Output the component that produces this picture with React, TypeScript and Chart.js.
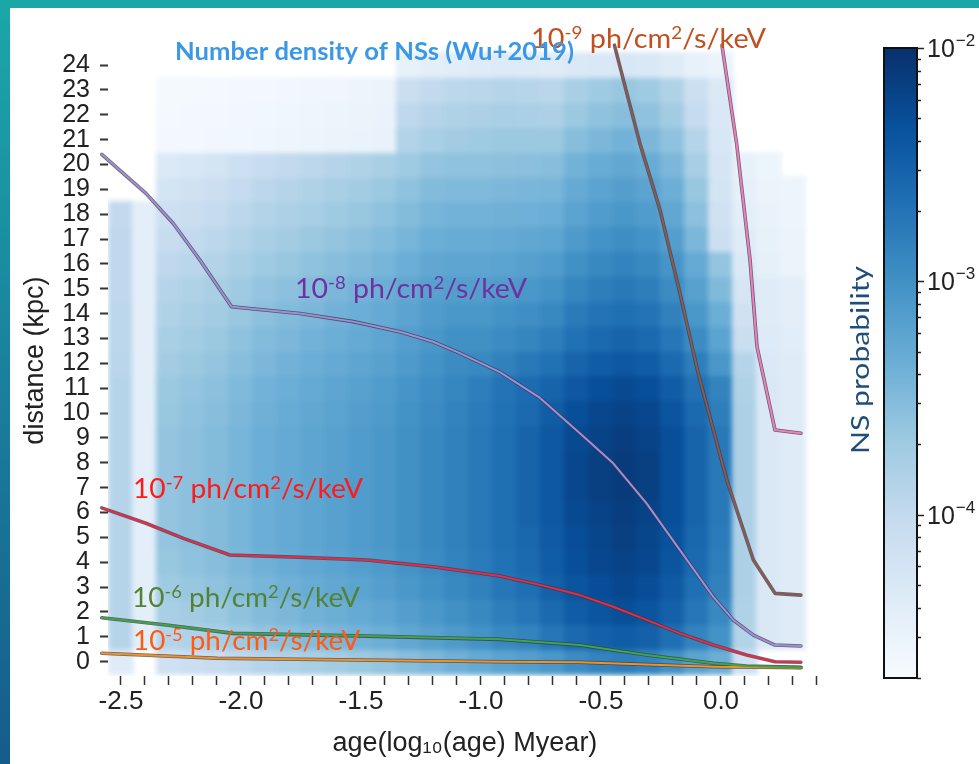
import { useEffect, useRef } from "react";
import { Chart, registerables } from "chart.js";

Chart.register(...registerables);

// Bin centres of the probability grid
const ageBins = [-2.5, -2.4, -2.3, -2.2, -2.1, -2.0, -1.9, -1.8, -1.7, -1.6, -1.5, -1.4, -1.3, -1.2, -1.1, -1.0, -0.9, -0.8, -0.7, -0.6, -0.5, -0.4, -0.3, -0.2, -0.1, 0.0, 0.1, 0.2, 0.3];
const distanceBins = [0, 1, 2, 3, 4, 5, 6, 7, 8, 9, 10, 11, 12, 13, 14, 15, 16, 17, 18, 19, 20, 21, 22, 23, 24];

// log10(NS probability), one row per distance bin (row index = kpc), one column per age bin; null = empty cell
const logProbability: (number | null)[][] = [
  [-4.38, null, -4.16, -4.11, -4.05, -3.97, -3.89, -3.84, -3.78, -3.73, -3.67, -3.62, -3.54, -3.46, -3.38, -3.30, -3.22, -3.16, -3.08, -2.95, -2.86, -2.81, -2.86, -3.00, -3.22, -3.35, -4.16, null, null],
  [-3.89, -4.43, -3.89, -3.84, -3.78, -3.70, -3.62, -3.57, -3.51, -3.46, -3.40, -3.35, -3.27, -3.19, -3.11, -3.03, -2.92, -2.86, -2.73, -2.59, -2.51, -2.46, -2.51, -2.65, -2.86, -3.03, -3.86, -4.30, -4.38],
  [-3.89, -4.43, -3.78, -3.73, -3.67, -3.59, -3.51, -3.46, -3.40, -3.35, -3.30, -3.24, -3.16, -3.08, -3.00, -2.92, -2.81, -2.73, -2.59, -2.46, -2.38, -2.32, -2.38, -2.51, -2.73, -2.92, -3.84, -4.30, -4.38],
  [-3.89, -4.43, -3.70, -3.65, -3.59, -3.51, -3.43, -3.38, -3.32, -3.27, -3.22, -3.16, -3.08, -3.00, -2.92, -2.84, -2.73, -2.65, -2.51, -2.38, -2.30, -2.24, -2.30, -2.43, -2.65, -2.84, -3.81, -4.30, -4.38],
  [-3.89, -4.43, -3.65, -3.59, -3.54, -3.46, -3.38, -3.32, -3.27, -3.22, -3.16, -3.11, -3.03, -2.95, -2.86, -2.78, -2.68, -2.59, -2.46, -2.32, -2.24, -2.19, -2.24, -2.38, -2.59, -2.81, -3.81, -4.30, -4.38],
  [-3.89, -4.43, -3.62, -3.57, -3.51, -3.43, -3.35, -3.30, -3.24, -3.19, -3.13, -3.08, -3.00, -2.92, -2.84, -2.76, -2.65, -2.57, -2.43, -2.30, -2.22, -2.16, -2.22, -2.35, -2.57, -2.78, -3.81, -4.30, -4.38],
  [-3.89, -4.43, -3.62, -3.57, -3.51, -3.43, -3.35, -3.30, -3.24, -3.19, -3.13, -3.08, -3.00, -2.92, -2.84, -2.76, -2.65, -2.54, -2.41, -2.27, -2.19, -2.14, -2.19, -2.32, -2.54, -2.76, -3.81, -4.30, -4.38],
  [-3.89, -4.43, -3.62, -3.57, -3.51, -3.43, -3.35, -3.30, -3.24, -3.19, -3.13, -3.08, -3.00, -2.92, -2.84, -2.76, -2.65, -2.54, -2.41, -2.24, -2.16, -2.11, -2.16, -2.32, -2.54, -2.76, -3.81, -4.30, -4.38],
  [-3.89, -4.43, -3.62, -3.57, -3.51, -3.43, -3.35, -3.30, -3.24, -3.19, -3.13, -3.08, -3.00, -2.92, -2.84, -2.76, -2.65, -2.54, -2.41, -2.24, -2.16, -2.11, -2.16, -2.32, -2.54, -2.76, -3.81, -4.30, -4.38],
  [-3.89, -4.43, -3.62, -3.57, -3.51, -3.43, -3.35, -3.30, -3.24, -3.19, -3.13, -3.08, -3.00, -2.92, -2.84, -2.76, -2.65, -2.54, -2.41, -2.27, -2.19, -2.14, -2.19, -2.32, -2.54, -2.76, -3.81, -4.30, -4.38],
  [-3.89, -4.43, -3.65, -3.59, -3.54, -3.46, -3.38, -3.32, -3.27, -3.22, -3.16, -3.11, -3.03, -2.95, -2.86, -2.78, -2.68, -2.59, -2.46, -2.32, -2.24, -2.19, -2.24, -2.38, -2.59, -2.81, -3.81, -4.30, -4.38],
  [-3.89, -4.43, -3.67, -3.62, -3.57, -3.49, -3.40, -3.35, -3.30, -3.24, -3.19, -3.13, -3.05, -2.97, -2.89, -2.81, -2.70, -2.62, -2.54, -2.41, -2.32, -2.27, -2.32, -2.46, -2.68, -2.86, -3.84, -4.30, -4.38],
  [-3.92, -4.43, -3.73, -3.67, -3.62, -3.54, -3.46, -3.40, -3.35, -3.30, -3.24, -3.19, -3.11, -3.03, -2.95, -2.92, -2.84, -2.76, -2.68, -2.54, -2.46, -2.41, -2.46, -2.59, -2.81, -3.08, -3.89, -4.32, -4.38],
  [-3.94, -4.43, -3.78, -3.73, -3.67, -3.59, -3.51, -3.46, -3.40, -3.35, -3.30, -3.24, -3.16, -3.08, -3.00, -3.00, -2.95, -2.88, -2.81, -2.68, -2.59, -2.54, -2.59, -2.73, -2.95, -3.22, -4.08, -4.35, -4.40],
  [-3.94, -4.43, -3.84, -3.78, -3.73, -3.65, -3.57, -3.51, -3.46, -3.40, -3.35, -3.30, -3.22, -3.13, -3.08, -3.08, -3.03, -2.98, -2.92, -2.78, -2.70, -2.65, -2.70, -2.84, -3.08, -3.35, -4.16, -4.38, -4.43],
  [-3.97, -4.43, -3.89, -3.84, -3.78, -3.70, -3.62, -3.57, -3.51, -3.46, -3.40, -3.35, -3.27, -3.19, -3.16, -3.16, -3.13, -3.08, -3.03, -2.89, -2.81, -2.76, -2.81, -2.95, -3.19, -3.49, -4.24, -4.38, -4.43],
  [-3.97, -4.43, -3.97, -3.92, -3.86, -3.78, -3.70, -3.65, -3.59, -3.54, -3.49, -3.43, -3.35, -3.27, -3.24, -3.24, -3.22, -3.18, -3.13, -3.00, -2.92, -2.86, -2.92, -3.05, -3.30, -3.62, -4.32, -4.46, -4.54],
  [-3.97, -4.43, -4.05, -4.00, -3.94, -3.86, -3.78, -3.73, -3.67, -3.62, -3.57, -3.51, -3.43, -3.35, -3.32, -3.32, -3.30, -3.27, -3.24, -3.11, -3.03, -2.97, -3.03, -3.16, -3.46, -4.11, -4.38, -4.48, -4.54],
  [-4.00, -4.43, -4.13, -4.08, -4.03, -3.94, -3.86, -3.81, -3.76, -3.70, -3.65, -3.59, -3.51, -3.43, -3.40, -3.40, -3.38, -3.37, -3.35, -3.22, -3.13, -3.08, -3.13, -3.27, -3.57, -4.16, -4.43, -4.51, -4.57],
  [null, null, -4.21, -4.16, -4.11, -4.03, -3.94, -3.89, -3.84, -3.78, -3.73, -3.67, -3.59, -3.51, -3.49, -3.49, -3.46, -3.45, -3.43, -3.30, -3.22, -3.16, -3.22, -3.35, -3.65, -4.21, -4.46, -4.54, -4.57],
  [null, null, -4.32, -4.27, -4.21, -4.13, -4.05, -4.00, -3.94, -3.89, -3.84, -3.78, -3.70, -3.62, -3.59, -3.59, -3.57, -3.56, -3.54, -3.40, -3.32, -3.27, -3.32, -3.46, -3.76, -4.24, -4.48, -4.57, null],
  [null, null, -4.64, -4.63, -4.62, -4.61, -4.60, -4.58, -4.57, -4.55, -4.53, -4.51, -3.86, -3.78, -3.73, -3.70, -3.67, -3.67, -3.67, -3.54, -3.46, -3.40, -3.46, -3.59, -3.89, -4.27, null, null, null],
  [null, null, -4.65, -4.64, -4.63, -4.62, -4.61, -4.60, -4.58, -4.57, -4.55, -4.53, -3.97, -3.89, -3.84, -3.81, -3.78, -3.80, -3.81, -3.67, -3.59, -3.54, -3.59, -3.73, -4.03, -4.30, null, null, null],
  [null, null, -4.66, -4.66, -4.65, -4.64, -4.63, -4.62, -4.60, -4.59, -4.57, -4.55, -4.08, -4.00, -3.94, -3.92, -3.89, -3.90, -3.92, -3.78, -3.70, -3.65, -3.70, -3.84, -4.11, -4.32, null, null, null],
  [null, null, null, null, null, null, null, null, null, null, null, null, -4.48, -4.43, -4.40, -4.38, -4.35, -4.36, -4.38, -4.32, -4.30, -4.27, -4.30, -4.38, -4.48, -4.54, null, null, null],
];

// Constant-flux curves: log10(age) and distance (kpc)
const ageE10 = [0.004, 0.065, 0.121, 0.15, 0.225, 0.333];
const distE10 = [24.8, 20.85, 16.16, 12.67, 9.32, 9.19];
const ageE9 = [-0.444, -0.428, -0.338, -0.254, -0.171, -0.095, 0.024, 0.135, 0.225, 0.333];
const distE9 = [24.8, 24.2, 20.85, 18.17, 14.82, 11.6, 7.31, 4.09, 2.75, 2.68];
const ageE8 = [-2.58, -2.396, -2.282, -2.171, -2.039, -1.754, -1.532, -1.338, -1.199, -1.088, -0.921, -0.754, -0.588, -0.449, -0.31, -0.171, -0.032, 0.051, 0.135, 0.225, 0.333];
const distE8 = [20.41, 18.84, 17.63, 16.16, 14.28, 14.01, 13.68, 13.27, 12.87, 12.41, 11.65, 10.61, 9.19, 7.98, 6.37, 4.49, 2.61, 1.68, 1.07, 0.67, 0.63];
const ageE7 = [-2.58, -2.396, -2.24, -2.046, -1.754, -1.476, -1.199, -0.921, -0.754, -0.588, -0.449, -0.31, -0.171, -0.032, 0.107, 0.225, 0.333];
const distE7 = [6.19, 5.57, 4.96, 4.29, 4.2, 4.09, 3.82, 3.45, 3.09, 2.68, 2.21, 1.68, 1.14, 0.67, 0.27, 0.0, -0.02];
const ageE6 = [-2.58, -2.31, -2.032, -1.476, -0.921, -0.588, -0.31, -0.032, 0.107, 0.333];
const distE6 = [1.77, 1.48, 1.14, 1.03, 0.9, 0.67, 0.27, -0.06, -0.17, -0.23];
const ageE5 = [-2.58, -2.1, -0.92, -0.588, -0.032, 0.333];
const distE5 = [0.34, 0.14, 0.0, -0.02, -0.2, -0.24];

// Flux exponents written on the curves
const labelledExponents = [-9, -8, -7, -6, -5];

// Colour bar range (log10 probability) and its labelled decades
const CB_MIN = -4.7;
const CB_MAX = -2;
const colorbarExponents = [-2, -3, -4];

const TICK_FONT = "'Liberation Sans', Arial, sans-serif";
const SLIDE_FONT = "Lato, 'Noto Sans', sans-serif";

// matplotlib "Blues"
const BLUES = [
  [247, 251, 255], [222, 235, 247], [198, 219, 239], [158, 202, 225], [107, 174, 214],
  [66, 146, 198], [33, 113, 181], [8, 81, 156], [8, 48, 107],
];

function blues(t: number): string {
  const c = Math.max(0, Math.min(1, t)) * (BLUES.length - 1);
  const i = Math.min(BLUES.length - 2, Math.floor(c));
  const f = c - i;
  const a = BLUES[i];
  const b = BLUES[i + 1];
  const m = (k: number) => Math.round(a[k] + (b[k] - a[k]) * f);
  return `rgb(${m(0)},${m(1)},${m(2)})`;
}

type Seg = { text: string; sup?: boolean };

function fluxText(exp: number): Seg[] {
  return [{ text: "10" }, { text: String(exp), sup: true }, { text: " ph/cm" }, { text: "2", sup: true }, { text: "/s/keV" }];
}

function drawRich(ctx: CanvasRenderingContext2D, segs: Seg[], left: number, baseline: number, width: number, color: string, size: number, weight = "normal") {
  const base = `${weight} ${size}px ${SLIDE_FONT}`;
  const sup = `${weight} ${Math.round(size * 0.64)}px ${SLIDE_FONT}`;
  ctx.save();
  let total = 0;
  const widths = segs.map((s) => {
    ctx.font = s.sup ? sup : base;
    const w = ctx.measureText(s.text).width;
    total += w;
    return w;
  });
  ctx.translate(left, baseline);
  ctx.scale(width / total, 1);
  ctx.fillStyle = color;
  ctx.textAlign = "left";
  ctx.textBaseline = "alphabetic";
  let cx = 0;
  segs.forEach((s, i) => {
    ctx.font = s.sup ? sup : base;
    ctx.fillText(s.text, cx, s.sup ? -size * 0.36 : 0);
    cx += widths[i];
  });
  ctx.restore();
}

const slideBackground = {
  id: "slideBackground",
  beforeDraw(chart: any) {
    const { ctx, width, height } = chart;
    ctx.save();
    const g = ctx.createLinearGradient(0, 0, 0, height);
    g.addColorStop(0, "#1ba7a8");
    g.addColorStop(0.5, "#1a809d");
    g.addColorStop(1, "#155c8c");
    ctx.fillStyle = g;
    ctx.fillRect(0, 0, width, height);
    ctx.fillStyle = "#ffffff";
    ctx.fillRect(10, 8, width - 10, height - 8);
    ctx.restore();
  },
};

const probabilityGrid = {
  id: "probabilityGrid",
  beforeDatasetsDraw(chart: any) {
    const { ctx, chartArea, scales } = chart;
    const xs = scales.x;
    const ys = scales.y;
    const off = document.createElement("canvas");
    off.width = chart.width;
    off.height = chart.height;
    const o = off.getContext("2d")!;
    logProbability.forEach((row, r) => {
      const d = distanceBins[r];
      const yTop = ys.getPixelForValue(d + 0.5);
      const yBot = ys.getPixelForValue(d - 0.5);
      row.forEach((v, c) => {
        if (v === null) return;
        const a = ageBins[c];
        const x0 = xs.getPixelForValue(a - 0.05);
        const x1 = xs.getPixelForValue(a + 0.05);
        o.fillStyle = blues((v - CB_MIN) / (CB_MAX - CB_MIN));
        o.fillRect(Math.floor(x0), Math.floor(yTop), Math.ceil(x1 - x0) + 1, Math.ceil(yBot - yTop) + 1);
      });
    });
    ctx.save();
    ctx.beginPath();
    ctx.rect(chartArea.left, chartArea.top, chartArea.right - chartArea.left, chartArea.bottom - chartArea.top);
    ctx.clip();
    ctx.filter = "blur(2.5px)";
    ctx.drawImage(off, 0, 0);
    ctx.restore();
  },
};

const curveLabels = {
  id: "curveLabels",
  afterDatasetsDraw(chart: any) {
    const ctx = chart.ctx;
    const place = [
      { left: 531, base: 48, width: 235, color: "#c0501f" },
      { left: 295, base: 298, width: 232, color: "#7030a0" },
      { left: 133, base: 498, width: 230, color: "#ff1a1a" },
      { left: 132, base: 607, width: 228, color: "#548235" },
      { left: 133, base: 650, width: 227, color: "#ff5a14" },
    ];
    labelledExponents.forEach((e, i) => {
      const p = place[i];
      drawRich(ctx, fluxText(e), p.left, p.base, p.width, p.color, 26);
    });
    drawRich(ctx, [{ text: "Number density of NSs (Wu+2019)" }], 175, 60, 399, "#3b98e6", 25, "bold");
  },
};

const colorbar = {
  id: "colorbar",
  afterDraw(chart: any) {
    const ctx = chart.ctx as CanvasRenderingContext2D;
    const L = 884;
    const R = 917;
    const T = 48;
    const B = 678;
    const yOf = (v: number) => B - ((v - CB_MIN) / (CB_MAX - CB_MIN)) * (B - T);
    ctx.save();
    const g = ctx.createLinearGradient(0, B, 0, T);
    BLUES.forEach((c, i) => g.addColorStop(i / (BLUES.length - 1), `rgb(${c.join(",")})`));
    ctx.fillStyle = g;
    ctx.fillRect(L, T, R - L, B - T);
    ctx.strokeStyle = "#111";
    ctx.lineWidth = 2;
    ctx.strokeRect(L, T, R - L, B - T);
    ctx.strokeStyle = "#222";
    ctx.lineWidth = 1.5;
    for (let e = Math.floor(CB_MIN); e <= CB_MAX; e++) {
      for (let k = 1; k < 10; k++) {
        const v = e + Math.log10(k);
        if (v < CB_MIN || v > CB_MAX + 1e-9) continue;
        const y = Math.round(yOf(v)) + 0.5;
        ctx.beginPath();
        ctx.moveTo(R, y);
        ctx.lineTo(R + (k === 1 ? 7 : 4), y);
        ctx.stroke();
      }
    }
    ctx.fillStyle = "#222";
    ctx.textAlign = "left";
    ctx.textBaseline = "alphabetic";
    colorbarExponents.forEach((e) => {
      const y = yOf(e);
      ctx.font = `25px ${TICK_FONT}`;
      ctx.fillText("10", R + 10, y + 9);
      const w = ctx.measureText("10").width;
      ctx.font = `17px ${TICK_FONT}`;
      ctx.fillText("\u2212" + String(-e), R + 11 + w, y - 2);
    });
    // colour bar title
    ctx.translate(861, 360);
    ctx.rotate(-Math.PI / 2);
    ctx.font = `25px ${SLIDE_FONT}`;
    const tw = ctx.measureText("NS probability").width;
    ctx.scale(188 / tw, 1);
    ctx.fillStyle = "#1f4e79";
    ctx.textAlign = "center";
    ctx.textBaseline = "middle";
    ctx.fillText("NS probability", 0, 0);
    ctx.restore();
  },
};

const contourSeries = [
  { age: ageE10, dist: distE10, color: "#f27cbc" },
  { age: ageE9, dist: distE9, color: "#8e5a4c" },
  { age: ageE8, dist: distE8, color: "#a08ed8" },
  { age: ageE7, dist: distE7, color: "#ec2a44" },
  { age: ageE6, dist: distE6, color: "#3aa845" },
  { age: ageE5, dist: distE5, color: "#f5921e" },
];

export default function App() {
  const ref = useRef<HTMLCanvasElement | null>(null);

  useEffect(() => {
    if (!ref.current) return;
    const datasets = contourSeries.flatMap((c) => {
      const pts = c.age.map((a, i) => ({ x: a, y: c.dist[i] }));
      return [
        { data: pts, showLine: true, borderColor: c.color, borderWidth: 2, pointRadius: 0, clip: false, order: 1, borderJoinStyle: "round", borderCapStyle: "round" },
        { data: pts, showLine: true, borderColor: "rgba(60,55,70,0.75)", borderWidth: 3.6, pointRadius: 0, clip: false, order: 2, borderJoinStyle: "round", borderCapStyle: "round" },
      ];
    });

    const chart = new Chart(ref.current, {
      type: "scatter",
      data: { datasets: datasets as any },
      plugins: [slideBackground, probabilityGrid, curveLabels, colorbar],
      options: {
        animation: false,
        responsive: false,
        devicePixelRatio: 1,
        events: [],
        layout: { padding: { top: 45.2, right: 157.2, left: 0, bottom: 0 } },
        plugins: { legend: { display: false }, tooltip: { enabled: false } },
        scales: {
          x: {
            type: "linear",
            min: -2.554,
            max: 0.42,
            afterFit: (s: any) => {
              s.height = 88;
            },
            border: { display: false },
            grid: { drawOnChartArea: false, tickLength: 9, tickColor: "#333", tickWidth: 1.5 },
            ticks: {
              stepSize: 0.1,
              autoSkip: false,
              maxRotation: 0,
              includeBounds: false,
              padding: 1,
              color: "#222",
              font: { family: TICK_FONT, size: 26 },
              callback: (v: any) => {
                const n = Math.round(Number(v) * 10);
                if (n % 5 !== 0) return "";
                return n === 0 ? "0.0" : (n / 10).toFixed(1);
              },
            },
            title: {
              display: true,
              text: "age(log\u2081\u2080(age) Myear)",
              color: "#222",
              font: { family: TICK_FONT, size: 27, lineHeight: 1 },
              padding: { top: 0, bottom: 6.5 },
            },
          },
          y: {
            type: "linear",
            min: -0.575,
            max: 24.8,
            afterFit: (s: any) => {
              s.width = 108;
            },
            border: { display: false },
            grid: { drawOnChartArea: false, tickLength: 8, tickColor: "#333", tickWidth: 2 },
            ticks: {
              stepSize: 1,
              autoSkip: false,
              includeBounds: false,
              padding: 10,
              color: "#222",
              font: { family: TICK_FONT, size: 25, lineHeight: 1 },
              callback: (v: any) => String(v),
            },
            title: {
              display: true,
              text: "distance (kpc)",
              color: "#222",
              font: { family: TICK_FONT, size: 27, lineHeight: 1 },
              padding: { top: 22.5, bottom: 0 },
            },
          },
        },
      } as any,
    });
    return () => chart.destroy();
  }, []);

  return (
    <div style={{ position: "fixed", left: 0, top: 0, width: 979, height: 764 }}>
      <canvas ref={ref} width={979} height={764} style={{ display: "block" }} />
    </div>
  );
}
